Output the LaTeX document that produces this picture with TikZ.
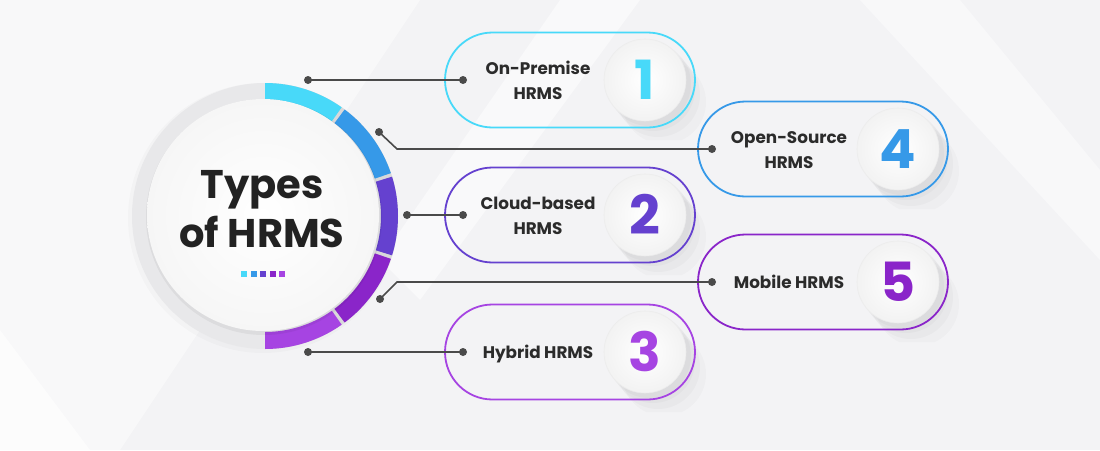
\documentclass[tikz,border=0pt]{standalone}
\usepackage{fontspec}
\setmainfont{Poppins}
\definecolor{bgc}{HTML}{F3F3F5}
\definecolor{ringc}{HTML}{E8E8EA}
\definecolor{gapc}{HTML}{D8D8DA}
\definecolor{ca}{HTML}{48D9F9}
\definecolor{cb}{HTML}{3699E8}
\definecolor{cc}{HTML}{6541CF}
\definecolor{cd}{HTML}{8A25C9}
\definecolor{ce}{HTML}{A644E2}
\definecolor{txt}{HTML}{2B2B2B}
\definecolor{linec}{HTML}{4A4A4A}
\tikzset{
  pill/.style={line width=1.8pt, rounded corners=47.5pt},
  dot/.style={circle, fill=linec, inner sep=0pt, minimum size=8pt},
  conn/.style={draw=linec, line width=1.6pt},
  lbl/.style={text=txt, font=\fontsize{16.8}{19}\selectfont\bfseries, anchor=base},
  numlbl/.style={font=\fontsize{54}{60}\selectfont\bfseries, anchor=base},
  title/.style={text=txt!80!black, font=\fontsize{40}{48}\selectfont\bfseries, anchor=base},
  sq/.style={minimum size=6pt, inner sep=0pt},
}
\begin{document}
\begin{tikzpicture}[x=1pt,y=-1pt]
\useasboundingbox (0,0) rectangle (1100,450);
% background
\fill[bgc] (0,0) rectangle (1100,450);
\fill[white,opacity=0.45] (0,0) -- (420,0) -- (120,450) -- (0,450) -- cycle;
\fill[white,opacity=0.5] (560,0) -- (640,0) -- (420,300) -- (380,260) -- cycle;
\fill[white,opacity=0.6] (0,330) -- (90,450) -- (0,450) -- cycle;
\fill[white,opacity=0.45] (860,0) -- (960,0) -- (1100,170) -- (1100,260) -- cycle;

% main circle
\fill[black,opacity=0.02] (263,218) circle (135);
\fill[ringc] (265,216) circle (133);
\begin{scope}[shift={(265,216)}]
  \fill[gapc] (-90:133) arc[start angle=-90,end angle=90,radius=133] -- (90:116) arc[start angle=90,end angle=-90,radius=116] -- cycle;
  \fill[ca] (-90:133) arc[start angle=-90,end angle=-54.8,radius=133] -- (-54.8:116) arc[start angle=-54.8,end angle=-90,radius=116] -- cycle;
  \fill[cb] (-53.2:133) arc[start angle=-53.2,end angle=-18.8,radius=133] -- (-18.8:116) arc[start angle=-18.8,end angle=-53.2,radius=116] -- cycle;
  \fill[cc] (-17.2:133) arc[start angle=-17.2,end angle=17.2,radius=133] -- (17.2:116) arc[start angle=17.2,end angle=-17.2,radius=116] -- cycle;
  \fill[cd] (18.8:133) arc[start angle=18.8,end angle=53.2,radius=133] -- (53.2:116) arc[start angle=53.2,end angle=18.8,radius=116] -- cycle;
  \fill[ce] (54.8:133) arc[start angle=54.8,end angle=90,radius=133] -- (90:116) arc[start angle=90,end angle=54.8,radius=116] -- cycle;
\end{scope}
\fill[black,opacity=0.05] (264,217) circle (118);
\shade[inner color=white, outer color=white!93!gray] (263,215) circle (116);
\node[title] (t1) at (262,198) {Types};
\node[title] (t2) at (262,247) {of HRMS};
\node[sq,fill=ca] (s1) at (244,274) {};
\node[sq,fill=cb] (s2) at (253.6,274) {};
\node[sq,fill=cc] (s3) at (263.2,274) {};
\node[sq,fill=cd] (s4) at (272.8,274) {};
\node[sq,fill=ce] (s5) at (282.4,274) {};

% pills
\foreach \px/\py/\col/\num in {445/80/ca/1, 698/149/cb/4, 445/215/cc/2, 698/282/cd/5, 445/352/ce/3}{
  \begin{scope}
    \clip[rounded corners=47.5pt] (\px-2,\py-50) rectangle (\px+300,\py+60);
    \fill[black,opacity=0.025] (\px+204,\py+4) circle (42);
    \fill[black,opacity=0.025] (\px+208,\py+9) circle (42);
    \fill[black,opacity=0.025] (\px+213,\py+15) circle (42);
    \fill[black,opacity=0.02] (\px+219,\py+22) circle (42);
  \end{scope}
  \draw[pill, draw=\col] (\px,\py-47.5) rectangle (\px+250,\py+47.5);
  \shade[inner color=white, outer color=white!90!gray] (\px+200,\py) circle (41);
  \draw[white!85!gray, line width=0.6pt] (\px+200,\py) circle (41);
  \node[numlbl, text=\col] (n\num) at (\px+200,\py+19) {\num};
}

% labels
\node[lbl] (l1a) at (538,74) {On-Premise};
\node[lbl] (l1b) at (538,99) {HRMS};
\node[lbl] (l4a) at (789,143) {Open-Source};
\node[lbl] (l4b) at (789,168) {HRMS};
\node[lbl] (l2a) at (538,209) {Cloud-based};
\node[lbl] (l2b) at (538,234) {HRMS};
\node[lbl] (l5) at (789,288) {Mobile HRMS};
\node[lbl] (l3) at (538,358) {Hybrid HRMS};

% connectors
\node[dot] (d1a) at (308,80) {};
\node[dot] (d1b) at (463,80) {};
\node[dot] (d4a) at (379,132) {};
\coordinate (k4) at (397,149);
\node[dot] (d4b) at (712,149) {};
\node[dot] (d2a) at (407,215) {};
\node[dot] (d2b) at (463,215) {};
\node[dot] (d5a) at (380,299) {};
\coordinate (k5) at (397,282);
\node[dot] (d5b) at (712,282) {};
\node[dot] (d3a) at (308,352) {};
\node[dot] (d3b) at (463,352) {};
\draw[conn] (d1a.center) -- (d1b.center);
\draw[conn] (d4a.center) -- (k4) -- (d4b.center);
\draw[conn] (d2a.center) -- (d2b.center);
\draw[conn] (d5a.center) -- (k5) -- (d5b.center);
\draw[conn] (d3a.center) -- (d3b.center);
\end{tikzpicture}
\end{document}
